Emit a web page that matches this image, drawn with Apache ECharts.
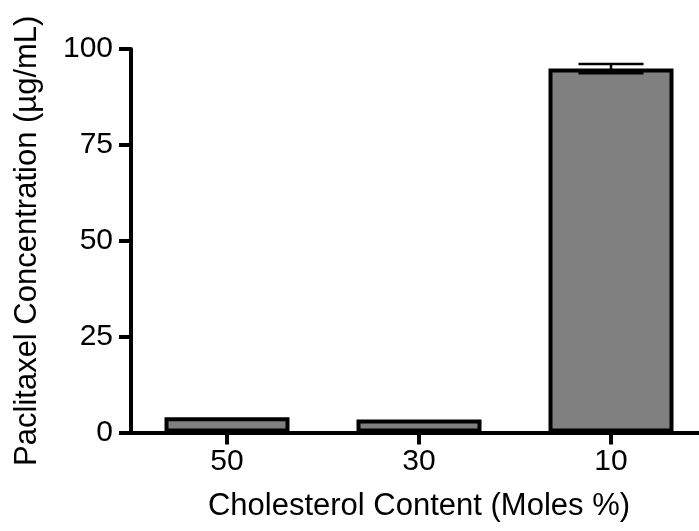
<!DOCTYPE html>
<html>
<head>
<meta charset="utf-8">
<script src="https://cdn.jsdelivr.net/npm/echarts@6/dist/echarts.min.js"></script>
<style>
  html, body { margin: 0; padding: 0; background: #ffffff; }
  #chart { width: 699px; height: 531px; }
</style>
</head>
<body>
<div id="chart"></div>
<script>
// Cholesterol content (mole %) of each formulation
const categories = ['50', '30', '10'];
// Mean paclitaxel concentration (µg/mL)
const means = [4.0, 3.4, 94.9];
// Error bar half-widths (µg/mL); 0 means no visible error bar
const errors = [0, 0, 1.2];
const yTicks = [0, 25, 50, 75, 100];

const FONT = '"Liberation Sans", Arial, Helvetica, sans-serif';

const chart = echarts.init(document.getElementById('chart'), null, { renderer: 'canvas' });

const errorData = categories.map((c, i) => [i, means[i] - errors[i], means[i] + errors[i]]);

chart.setOption({
  animation: false,
  backgroundColor: '#ffffff',
  grid: {
    left: 131, top: 49, width: 576, height: 383.5,
    containLabel: false,
    outerBoundsMode: 'none'
  },
  xAxis: {
    type: 'category',
    data: categories,
    name: 'Cholesterol Content (Moles %)',
    nameLocation: 'middle',
    nameGap: 58,
    nameTextStyle: { color: '#000', fontFamily: FONT, fontSize: 31 },
    axisLine: { show: true, lineStyle: { color: '#000', width: 4 } },
    axisTick: { show: true, alignWithLabel: true, length: 12, lineStyle: { color: '#000', width: 4 } },
    axisLabel: { color: '#000', fontFamily: FONT, fontSize: 30, margin: 14 },
    splitLine: { show: false }
  },
  yAxis: {
    type: 'value',
    min: yTicks[0],
    max: yTicks[yTicks.length - 1],
    interval: yTicks[1] - yTicks[0],
    name: 'Paclitaxel Concentration (µg/mL)',
    nameLocation: 'middle',
    nameRotate: 90,
    nameGap: 88,
    nameTextStyle: { color: '#000', fontFamily: FONT, fontSize: 31 },
    axisLine: { show: true, lineStyle: { color: '#000', width: 4 } },
    axisTick: { show: true, length: 12, lineStyle: { color: '#000', width: 4 } },
    axisLabel: { color: '#000', fontFamily: FONT, fontSize: 30, margin: 18 },
    splitLine: { show: false }
  },
  series: [
    {
      type: 'bar',
      data: means,
      barWidth: 125,
      itemStyle: { color: '#808080', borderColor: '#000', borderWidth: 4 },
      z: 2
    },
    {
      type: 'custom',
      data: errorData,
      z: 3,
      renderItem: function (params, api) {
        const idx = api.value(0);
        const lo = api.value(1);
        const hi = api.value(2);
        if (hi - lo <= 0) return null;
        const pLo = api.coord([idx, lo]);
        const pHi = api.coord([idx, hi]);
        const half = 32.5;
        const style = { stroke: '#000', lineWidth: 2.5 };
        return {
          type: 'group',
          children: [
            { type: 'line', shape: { x1: pLo[0], y1: pLo[1], x2: pHi[0], y2: pHi[1] }, style: style },
            { type: 'line', shape: { x1: pHi[0] - half, y1: pHi[1], x2: pHi[0] + half, y2: pHi[1] }, style: style },
            { type: 'line', shape: { x1: pLo[0] - half, y1: pLo[1], x2: pLo[0] + half, y2: pLo[1] }, style: style }
          ]
        };
      }
    }
  ]
});
</script>
</body>
</html>
